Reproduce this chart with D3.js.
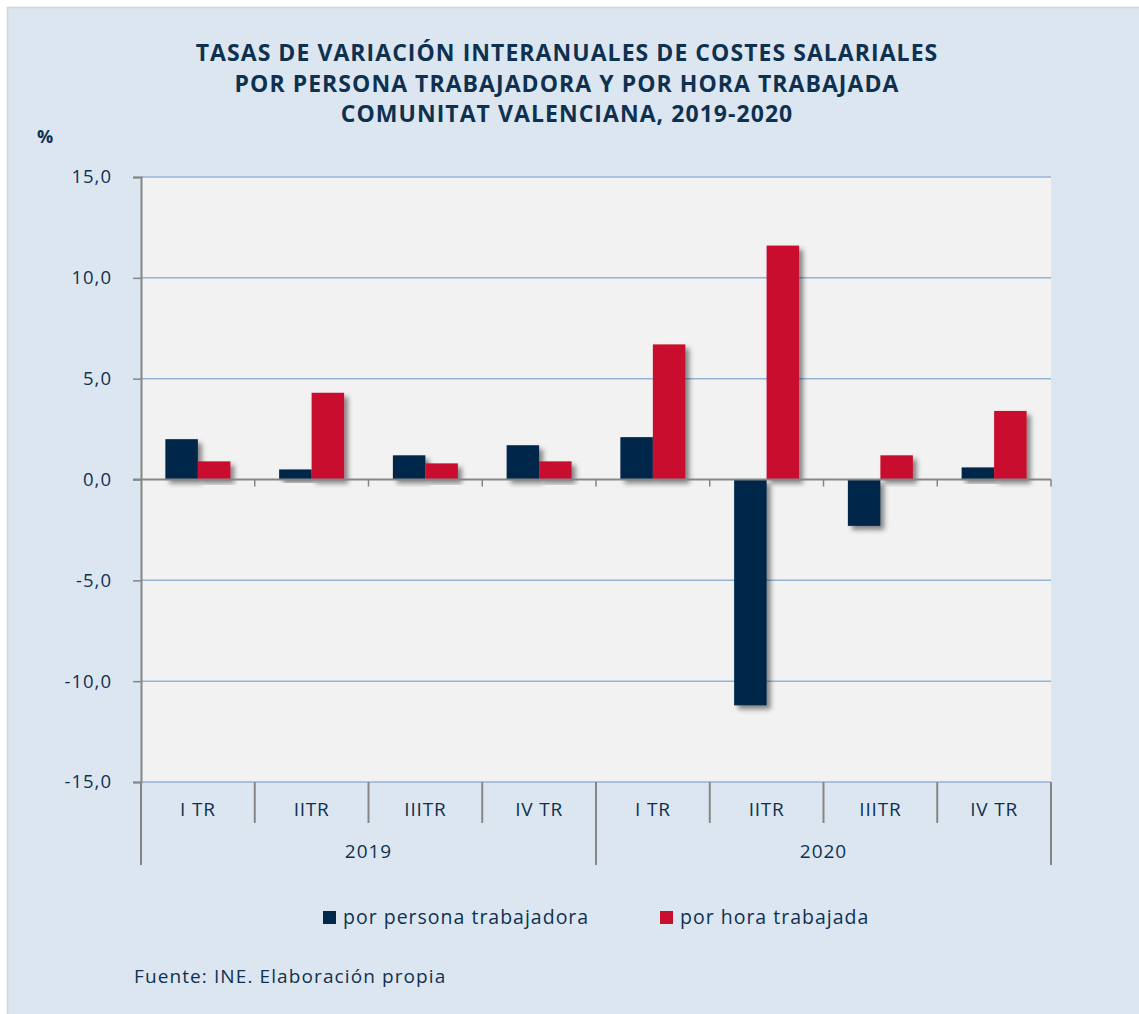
<!DOCTYPE html>
<html>
<head>
<meta charset="utf-8">
<script src="https://cdn.jsdelivr.net/npm/d3@7"></script>
<style>
  body { margin: 0; background: #fff; }
  svg text { font-family: "Open Sans", sans-serif; fill: #0f3150; }
</style>
</head>
<body>
<script>
// data
var quarters = ["I TR", "IITR", "IIITR", "IV TR", "I TR", "IITR", "IIITR", "IV TR"];
var years = ["2019", "2020"];
var porPersona = [2.0, 0.5, 1.2, 1.7, 2.1, -11.2, -2.3, 0.6];
var porHora = [0.9, 4.3, 0.8, 0.9, 6.7, 11.6, 1.2, 3.4];
var seriesNames = ["por persona trabajadora", "por hora trabajada"];
var seriesColors = ["#002848", "#c8102e"];
var yTicks = [-15, -10, -5, 0, 5, 10, 15];
var titleLines = [
    "TASAS DE VARIACIÓN INTERANUALES DE COSTES SALARIALES",
    "POR PERSONA TRABAJADORA Y POR HORA TRABAJADA",
    "COMUNITAT VALENCIANA, 2019-2020"
];

var width = 1139;
var height = 1014;
var plotLeft = 141, plotRight = 1051, plotTop = 177, plotBottom = 782;

var svg = d3.select("body").append("svg").attr("width", width).attr("height", height);

var defs = svg.append("defs");
var f = defs.append("filter").attr("id", "shadow").attr("x", "-20%").attr("y", "-20%").attr("width", "150%").attr("height", "150%");
f.append("feDropShadow").attr("dx", 4).attr("dy", 4).attr("stdDeviation", 2.5)
    .attr("flood-color", "#000").attr("flood-opacity", 0.45);

// frame
svg.append("rect").attr("x", 7.5).attr("y", 7.5).attr("width", width).attr("height", height)
    .attr("fill", "#dce6f1").attr("stroke", "#d4d4d4").attr("stroke-width", 1.5);

// title
svg.selectAll(".title").data(titleLines).enter().append("text")
    .attr("class", "title")
    .attr("x", 567).attr("y", function (d, i) { return 61 + i * 30.5; })
    .attr("text-anchor", "middle")
    .style("font-size", "23px").style("font-weight", "bold").style("letter-spacing", "1.05px")
    .text(function (d) { return d; });

svg.append("text").attr("x", 37).attr("y", 143).style("font-size", "18px").style("font-weight", "bold").text("%");

var x = d3.scaleBand().domain(d3.range(quarters.length)).range([plotLeft, plotRight]);
var xs = d3.scaleBand().domain([0, 1]).range([0, x.bandwidth()]).paddingInner(0).paddingOuter(0.75);
var y = d3.scaleLinear().domain([-15, 15]).range([plotBottom, plotTop]);

// plot area
svg.append("rect").attr("x", plotLeft).attr("y", plotTop).attr("width", plotRight - plotLeft).attr("height", plotBottom - plotTop).attr("fill", "#f2f2f2");

// gridlines
svg.append("g").selectAll("line").data(yTicks.filter(function (d) { return d !== 0; })).enter().append("line")
    .attr("x1", plotLeft).attr("x2", plotRight)
    .attr("y1", function (d) { return y(d); }).attr("y2", function (d) { return y(d); })
    .attr("stroke", "#95b3d7").attr("stroke-width", 1.5);

// y axis
var yAxis = d3.axisLeft(y).tickValues(yTicks).tickSize(8).tickPadding(21)
    .tickFormat(function (d) { return d3.format(".1f")(d).replace(".", ",").replace("\u2212", "-"); });
var gy = svg.append("g").attr("transform", "translate(" + plotLeft + ",0)").call(yAxis);
gy.select(".domain").attr("stroke", "#868686").attr("stroke-width", 2);
gy.selectAll(".tick line").attr("stroke", "#868686").attr("stroke-width", 1.5);
gy.selectAll(".tick text").style("font-size", "18.5px").style("letter-spacing", "1px").attr("fill", "#0f3150")
    .attr("font-family", null);

// bars
var data = quarters.map(function (q, i) { return { i: i, vals: [porPersona[i], porHora[i]] }; });
var groups = svg.append("g").selectAll("g").data(data).enter().append("g")
    .attr("transform", function (d) { return "translate(" + x(d.i) + ",0)"; });
groups.selectAll("rect").data(function (d) { return d.vals; }).enter().append("rect")
    .attr("x", function (d, j) { return xs(j); })
    .attr("y", function (d) { return y(Math.max(0, d)); })
    .attr("width", xs.bandwidth())
    .attr("height", function (d) { return Math.abs(y(d) - y(0)); })
    .attr("fill", function (d, j) { return seriesColors[j]; })
    .attr("filter", "url(#shadow)");

// zero axis
svg.append("line").attr("x1", plotLeft - 8).attr("x2", plotRight).attr("y1", y(0)).attr("y2", y(0))
    .attr("stroke", "#868686").attr("stroke-width", 2);
svg.append("g").selectAll("line").data(d3.range(1, quarters.length + 1)).enter().append("line")
    .attr("x1", function (d) { return plotLeft + d * x.step(); }).attr("x2", function (d) { return plotLeft + d * x.step(); })
    .attr("y1", y(0)).attr("y2", y(0) + 7)
    .attr("stroke", "#868686").attr("stroke-width", 1.5);

// category axis below
var xb = d3.axisBottom(x).tickSize(0).tickPadding(21).tickFormat(function (d) { return quarters[d]; });
var gx = svg.append("g").attr("transform", "translate(0," + plotBottom + ")").call(xb);
gx.select(".domain").remove();
gx.selectAll(".tick text").style("font-size", "19px").style("letter-spacing", "0.8px").attr("fill", "#0f3150")
    .attr("font-family", null);

svg.append("g").selectAll("line").data(d3.range(0, quarters.length + 1)).enter().append("line")
    .attr("x1", function (d) { return plotLeft + d * x.step(); }).attr("x2", function (d) { return plotLeft + d * x.step(); })
    .attr("y1", plotBottom).attr("y2", function (d) { return d % 4 === 0 ? 865 : 823; })
    .attr("stroke", "#868686").attr("stroke-width", 2);

svg.selectAll(".year").data(years).enter().append("text")
    .attr("class", "year")
    .attr("x", function (d, i) { return plotLeft + (i * 4 + 2) * x.step(); })
    .attr("y", 858).attr("text-anchor", "middle").style("font-size", "19px").style("letter-spacing", "1px")
    .text(function (d) { return d; });

// legend
var legX = [323, 660];
var leg = svg.append("g").selectAll("g").data(seriesNames).enter().append("g")
    .attr("transform", function (d, i) { return "translate(" + legX[i] + ",911)"; });
leg.append("rect").attr("width", 13).attr("height", 13).attr("fill", function (d, i) { return seriesColors[i]; });
leg.append("text").attr("x", 20).attr("y", 12.5).style("font-size", "19.5px").style("letter-spacing", "1px")
    .text(function (d) { return d; });

svg.append("text").attr("x", 134).attr("y", 983).style("font-size", "19px").style("letter-spacing", "1.1px")
    .text("Fuente: INE. Elaboración propia");
</script>
</body>
</html>
